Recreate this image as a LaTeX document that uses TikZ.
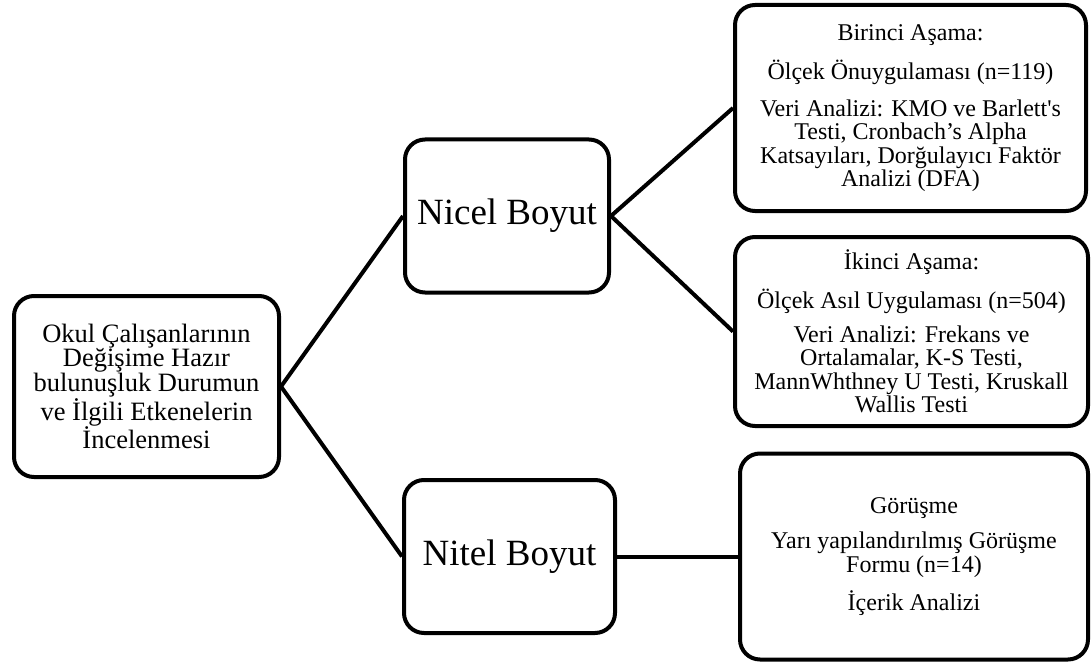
\documentclass[tikz,border=0pt]{standalone}
\usepackage{fontspec}
\setmainfont{Liberation Serif}
\begin{document}
\begin{tikzpicture}[x=1pt,y=-1pt,
  box/.style={draw, line width=4pt, rounded corners=20pt, inner sep=0pt,
    align=center, font=\fontsize{24}{23.5}\selectfont},
  bigbox/.style={box, font=\fontsize{37}{40}\selectfont},
  link/.style={line width=4pt}]
\useasboundingbox (0,0) rectangle (1092,666);

% root topic
\node[box, font=\fontsize{26.5}{24}\selectfont, minimum width=265pt, minimum height=181pt]
  (root) at (146.5,386.5)
  {Okul Çalışanlarının\\Değişime Hazır\\bulunuşluk Durumun\\ve İlgili Etkenelerin\\İncelenmesi};

% two dimensions
\node[bigbox, minimum width=204pt, minimum height=153pt] (nicel) at (507,216) {Nicel Boyut};
\node[bigbox, minimum width=211pt, minimum height=153pt] (nitel) at (509.5,556.5) {Nitel Boyut};

% stages
\node[box, minimum width=351pt, minimum height=206pt] (stage1) at (910.5,108)
  {Birinci Aşama:\\[13.5pt]
   Ölçek Önuygulaması (n=119)\\[13.5pt]
   Veri Analizi: KMO ve Barlett\textquotesingle s\\Testi, Cronbach’s Alpha\\Katsayıları, Dorğulayıcı Faktör\\Analizi (DFA)};
\node[box, minimum width=353pt, minimum height=189pt] (stage2) at (911.5,331.5)
  {İkinci Aşama:\\[13.5pt]
   Ölçek Asıl Uygulaması (n=504)\\[10pt]
   Veri Analizi: Frekans ve\\Ortalamalar, K-S Testi,\\MannWhthney U Testi, Kruskall\\Wallis Testi};
\node[box, minimum width=348pt, minimum height=206pt] (interview) at (914,556.5)
  {Görüşme\\[12pt]
   Yarı yapılandırılmış Görüşme\\Formu (n=14)\\[12.5pt]
   İçerik Analizi};

% connectors
\draw[link] (root.east) -- (nicel.west);
\draw[link] (root.east) -- (nitel.west);
\draw[link] (nicel.east) -- (stage1.west);
\draw[link] (nicel.east) -- (stage2.west);
\draw[link] (nitel.east) -- (interview.west);
\end{tikzpicture}
\end{document}
